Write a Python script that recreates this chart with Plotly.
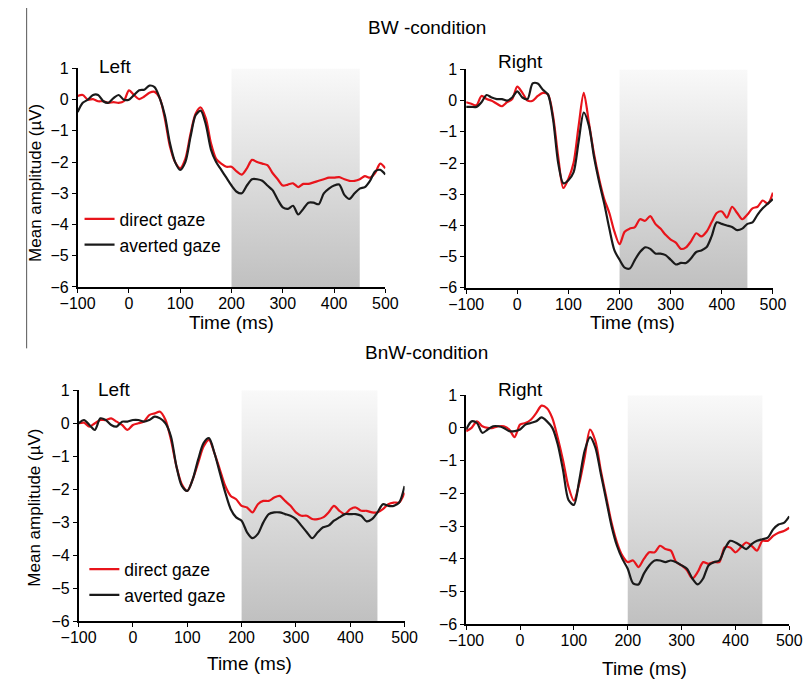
import plotly.graph_objects as go

# Time axis (ms) shared by every waveform
TIME_MS = [-100, -90, -80, -70, -60, -50, -40, -30, -20, -10,
           0, 10, 20, 30, 40, 50, 60, 70, 80, 90,
           100, 110, 120, 130, 140, 150, 160, 170, 180, 190,
           200, 210, 220, 230, 240, 250, 260, 270, 280, 290,
           300, 310, 320, 330, 340, 350, 360, 370, 380, 390,
           400, 410, 420, 430, 440, 450, 460, 470, 480, 490, 500]

# BW-condition, left hemisphere (µV)
BW_LEFT_DIRECT = [0.12, 0.15, 0.0, 0.02, -0.05, -0.05, -0.1, -0.08, -0.1, -0.05,
                  0.3, 0.15, 0.02, 0.1, 0.22, 0.25, 0.05, -0.6, -1.5, -2.0,
                  -2.2, -1.9, -1.1, -0.45, -0.25, -0.6, -1.4, -1.9, -2.05, -2.15,
                  -2.15, -2.3, -2.4, -2.2, -1.93, -2.0, -2.05, -2.1, -2.35, -2.55,
                  -2.75, -2.72, -2.68, -2.8, -2.7, -2.7, -2.65, -2.6, -2.55, -2.5,
                  -2.5, -2.48, -2.55, -2.6, -2.6, -2.55, -2.45, -2.5, -2.35, -2.05, -2.2]
BW_LEFT_AVERTED = [-0.4, -0.1, 0.0, 0.15, 0.15, -0.05, -0.1, 0.05, 0.15, 0.0,
                   0.0, 0.15, 0.3, 0.32, 0.45, 0.4, 0.05, -0.5, -1.4, -2.0,
                   -2.25, -2.0, -1.2, -0.5, -0.35, -0.8, -1.6, -2.0, -2.25, -2.5,
                   -2.75, -2.95, -3.0, -2.75, -2.55, -2.55, -2.6, -2.75, -2.9, -3.2,
                   -3.45, -3.5, -3.4, -3.68, -3.5, -3.3, -3.3, -3.35, -3.0, -2.85,
                   -2.75, -2.72, -3.05, -3.18, -3.0, -2.85, -2.8, -2.6, -2.3, -2.25, -2.4]

# BW-condition, right hemisphere (µV)
BW_RIGHT_DIRECT = [-0.05, -0.1, -0.15, 0.15, 0.05, 0.0, -0.1, -0.18, -0.05, 0.05,
                   0.45, 0.25, 0.0, 0.0, 0.15, 0.25, 0.2, -0.5, -1.8, -2.8,
                   -2.5, -2.0, -0.8, 0.25, -0.7, -1.7, -2.5, -3.15, -3.6, -4.2,
                   -4.6, -4.2, -4.1, -4.05, -3.8, -3.85, -3.7, -3.95, -4.1, -4.3,
                   -4.45, -4.55, -4.75, -4.7, -4.5, -4.25, -4.35, -4.2, -3.9, -3.6,
                   -3.55, -3.75, -3.4, -3.6, -3.8, -3.65, -3.45, -3.4, -3.2, -3.3, -2.95]
BW_RIGHT_AVERTED = [-0.2, -0.2, -0.2, -0.05, 0.18, 0.1, 0.05, 0.05, 0.0, 0.1,
                    0.3, 0.1, 0.05, 0.55, 0.55, 0.35, 0.2, -0.6, -2.0, -2.65,
                    -2.55, -2.3, -1.3, -0.38, -0.8, -1.8, -2.6, -3.3, -4.1, -4.8,
                    -5.1, -5.35, -5.38, -5.1, -4.85, -4.7, -4.75, -4.9, -4.9, -4.95,
                    -5.1, -5.25, -5.2, -5.2, -5.05, -4.85, -4.8, -4.7, -4.35, -3.9,
                    -3.95, -4.0, -4.05, -4.15, -4.1, -3.95, -3.9, -3.65, -3.45, -3.3, -3.15]

# BnW-condition, left hemisphere (µV)
BNW_LEFT_DIRECT = [0.0, 0.02, -0.1, 0.0, 0.1, 0.1, 0.15, 0.05, -0.05, -0.2,
                   -0.05, 0.0, 0.05, 0.25, 0.3, 0.35, 0.1, -0.5, -1.3, -1.85,
                   -2.05, -1.7, -1.2, -0.7, -0.5, -0.9, -1.4, -1.9, -2.2, -2.3,
                   -2.5, -2.55, -2.7, -2.45, -2.35, -2.35, -2.25, -2.2, -2.35, -2.5,
                   -2.7, -2.8, -2.8, -2.9, -2.9, -2.85, -2.7, -2.5, -2.65, -2.75,
                   -2.6, -2.55, -2.65, -2.65, -2.7, -2.7, -2.6, -2.45, -2.4, -2.4, -2.1]
BNW_LEFT_AVERTED = [0.0, 0.1, -0.05, -0.2, 0.15, 0.1, -0.05, -0.1, 0.05, 0.05,
                    0.1, 0.1, 0.05, 0.1, 0.2, 0.15, 0.0, -0.4, -1.3, -1.9,
                    -2.05, -1.7, -1.1, -0.6, -0.45, -0.9, -1.5, -2.1, -2.6, -2.85,
                    -2.95, -3.3, -3.48, -3.35, -3.0, -2.75, -2.7, -2.7, -2.75, -2.8,
                    -2.9, -3.1, -3.3, -3.48, -3.3, -3.15, -3.1, -2.95, -2.85, -2.75,
                    -2.75, -2.75, -2.8, -2.97, -2.9, -2.7, -2.45, -2.5, -2.5, -2.4, -1.9]

# BnW-condition, right hemisphere (µV)
BNW_RIGHT_DIRECT = [-0.1, 0.0, 0.2, 0.05, 0.0, 0.0, 0.05, 0.05, -0.05, -0.28,
                    0.1, 0.15, 0.25, 0.45, 0.68, 0.6, 0.3, -0.3, -1.0, -1.8,
                    -2.22, -1.7, -0.9, -0.05, -0.4, -1.3, -2.1, -2.9, -3.5, -3.9,
                    -4.1, -4.05, -4.25, -4.0, -3.8, -3.8, -3.6, -3.7, -3.75, -4.1,
                    -4.2, -4.35, -4.6, -4.4, -4.1, -4.15, -4.1, -4.1, -3.65, -3.65,
                    -3.8, -3.65, -3.5, -3.6, -3.75, -3.45, -3.45, -3.3, -3.2, -3.15, -3.05]
BNW_RIGHT_AVERTED = [-0.05, 0.2, 0.15, -0.15, -0.05, 0.05, 0.05, 0.0, -0.1, -0.1,
                     -0.05, 0.1, 0.15, 0.2, 0.32, 0.2, 0.0, -0.5, -1.3, -2.2,
                     -2.35, -1.6, -0.7, -0.28, -0.6, -1.4, -2.2, -3.0, -3.6, -4.0,
                     -4.3, -4.75, -4.78, -4.45, -4.2, -4.05, -4.05, -4.1, -4.05, -4.1,
                     -4.2, -4.3, -4.6, -4.78, -4.6, -4.2, -4.1, -4.05, -3.7, -3.45,
                     -3.5, -3.6, -3.7, -3.55, -3.45, -3.4, -3.35, -3.1, -2.95, -2.9, -2.7]

# Analysis window (ms) highlighted in each panel
WINDOW_MS = [200, 450]
AMP_RANGE = [-6, 1]
TIME_RANGE = [-100, 500]

X_TICKS = [-100, 0, 100, 200, 300, 400, 500]
Y_TICKS = [-6, -5, -4, -3, -2, -1, 0, 1]

SERIES_NAMES = ["direct gaze", "averted gaze"]
COLORS = {"direct gaze": "#e8141b", "averted gaze": "#1a1a1a"}
PANEL_LABELS = ["Left", "Right", "Left", "Right"]
CONDITION_TITLES = ["BW -condition", "BnW-condition"]
X_TITLE = "Time (ms)"
Y_TITLE = "Mean amplitude (µV)"

FONT = "Arial, 'Liberation Sans', sans-serif"
W, H = 810, 686


def px_x(p):
    return p / W


def px_y(p):
    return 1 - p / H


# panel geometry in pixels: (left, right, top, bottom)
panels = [
    dict(box=(62, 382, 62, 286), direct=BW_LEFT_DIRECT, averted=BW_LEFT_AVERTED, legend="legend"),
    dict(box=(466, 785, 63, 287), direct=BW_RIGHT_DIRECT, averted=BW_RIGHT_AVERTED, legend=None),
    dict(box=(63, 402, 392, 629), direct=BNW_LEFT_DIRECT, averted=BNW_LEFT_AVERTED, legend="legend2"),
    dict(box=(466, 802, 397, 632), direct=BNW_RIGHT_DIRECT, averted=BNW_RIGHT_AVERTED, legend=None),
]

fig = go.Figure()
layout = dict(
    width=W, height=H,
    margin=dict(l=0, r=0, t=0, b=0),
    paper_bgcolor="white", plot_bgcolor="white",
    font=dict(family=FONT, color="black", size=16),
    showlegend=True,
)

annotations = []
for i, p in enumerate(panels):
    l, r, t, b = p["box"]
    n = i + 1
    xa = "xaxis" if n == 1 else f"xaxis{n}"
    ya = "yaxis" if n == 1 else f"yaxis{n}"
    xref = "x" if n == 1 else f"x{n}"
    yref = "y" if n == 1 else f"y{n}"

    layout[xa] = dict(
        domain=[px_x(l), px_x(r)], range=TIME_RANGE, anchor=yref,
        showgrid=False, zeroline=False, showline=True, linecolor="black", linewidth=1.5,
        ticks="outside", ticklen=4, tickwidth=1.2, tickcolor="black",
        tickvals=X_TICKS, tickfont=dict(size=16, family=FONT), ticklabelstandoff=-3,
    )
    layout[ya] = dict(
        domain=[px_y(b), px_y(t)], range=AMP_RANGE, anchor=xref,
        showgrid=False, zeroline=False, showline=True, linecolor="black", linewidth=1.5,
        ticks="outside", ticklen=4, tickwidth=1.2, tickcolor="black",
        tickvals=Y_TICKS, tickfont=dict(size=16, family=FONT),
    )

    # shaded analysis window with vertical gradient
    fig.add_trace(go.Scatter(
        x=[WINDOW_MS[0], WINDOW_MS[1], WINDOW_MS[1], WINDOW_MS[0], WINDOW_MS[0]],
        y=[AMP_RANGE[0], AMP_RANGE[0], AMP_RANGE[1], AMP_RANGE[1], AMP_RANGE[0]],
        xaxis=xref, yaxis=yref, mode="lines", line=dict(width=0),
        fill="toself",
        fillgradient=dict(type="vertical", colorscale=[[0, "#c0c0c0"], [1, "#f9f9f9"]]),
        showlegend=False, hoverinfo="skip",
    ))

    for name, vals in zip(SERIES_NAMES, [p["direct"], p["averted"]]):
        trace = dict(
            x=TIME_MS, y=vals, xaxis=xref, yaxis=yref, mode="lines", name=name,
            line=dict(color=COLORS[name], width=2.2, shape="spline", smoothing=0.8),
            showlegend=p["legend"] is not None,
        )
        if p["legend"] is not None:
            trace["legend"] = p["legend"]
        fig.add_trace(go.Scatter(**trace))

# Panel labels
label_pos = [(101, 60), (523, 55), (100, 391), (522, 391)]
for text, (x, y) in zip(PANEL_LABELS, label_pos):
    annotations.append(dict(text=text, x=px_x(x), y=px_y(y), xref="paper", yref="paper",
                            showarrow=False, xanchor="center", yanchor="middle",
                            font=dict(size=19, family=FONT)))

# Axis titles
xtitle_pos = [(222, 322), (639, 322), (241, 672), (651, 677)]
for x, y in xtitle_pos:
    annotations.append(dict(text=X_TITLE, x=px_x(x), y=px_y(y), xref="paper", yref="paper",
                            showarrow=False, xanchor="center", yanchor="middle",
                            font=dict(size=19, family=FONT)))
for x, y in [(18, 179), (17, 512)]:
    annotations.append(dict(text=Y_TITLE, x=px_x(x), y=px_y(y), xref="paper", yref="paper",
                            showarrow=False, xanchor="center", yanchor="middle", textangle=-90,
                            font=dict(size=17, family=FONT)))

# Condition titles
for text, (x, y) in zip(CONDITION_TITLES, [(425, 20), (425, 353)]):
    annotations.append(dict(text=text, x=px_x(x), y=px_y(y), xref="paper", yref="paper",
                            showarrow=False, xanchor="center", yanchor="middle",
                            font=dict(size=19, family=FONT)))

layout["annotations"] = annotations

legend_style = dict(
    xanchor="left", yanchor="top", bgcolor="rgba(0,0,0,0)", borderwidth=0,
    font=dict(size=17.5, family=FONT), itemwidth=30, tracegroupgap=0,
)
layout["legend"] = dict(x=px_x(64), y=px_y(198), **legend_style)
layout["legend2"] = dict(x=px_x(69), y=px_y(557), **legend_style)

# Divider rule along the left edge of the top block
layout["shapes"] = [dict(type="line", xref="paper", yref="paper",
                         x0=px_x(9), x1=px_x(9), y0=1, y1=px_y(349),
                         line=dict(color="#555555", width=1))]

fig.update_layout(**layout)
fig.write_html("out.html")
